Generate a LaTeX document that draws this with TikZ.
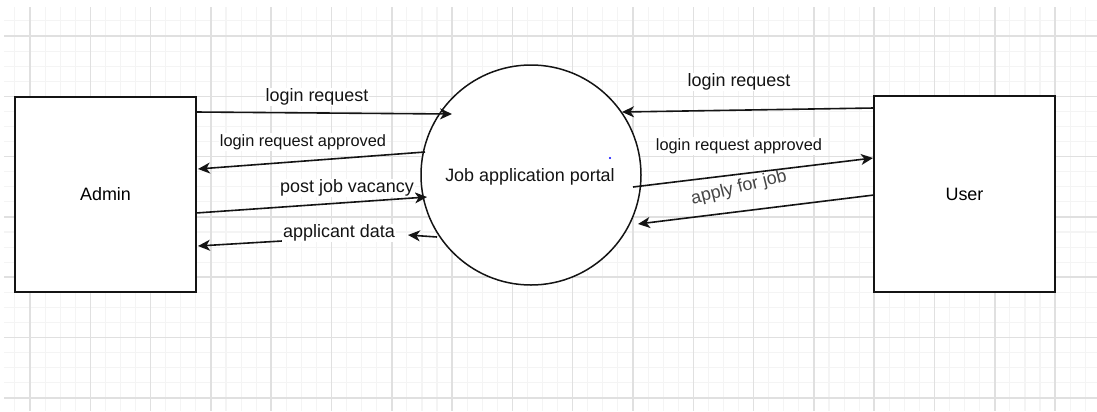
\documentclass[tikz,border=0pt]{standalone}
\usepackage{fontspec}
\setmainfont{Liberation Sans}
\usetikzlibrary{arrows.meta}
\definecolor{gridminor}{HTML}{F4F4F4}
\definecolor{gridmajor}{HTML}{E0E0E0}
\definecolor{ink}{HTML}{141414}
\definecolor{softink}{HTML}{454545}
\tikzset{
  x=1bp, y=-1bp,
  minorline/.style={draw=gridminor, line width=1.1bp},
  majorline/.style={draw=gridmajor, line width=1.5bp},
  entity/.style={draw=ink, line width=1.5bp, fill=white, minimum width=181bp,
    minimum height=195bp, inner sep=0pt, font=\fontsize{18}{21}\selectfont},
  process/.style={circle, draw=ink, line width=1.5bp, fill=white,
    minimum size=220bp, inner sep=0pt, font=\fontsize{18}{21}\selectfont},
  flow/.style={draw=ink, line width=1.6bp, -{Stealth[length=12bp, width=11bp, inset=3.5bp]}},
  flowlabel/.style={fill=white, inner sep=1bp, text=ink, font=\fontsize{18}{21}\selectfont},
  smalllabel/.style={flowlabel, font=\fontsize{16.4}{19}\selectfont}
}
\begin{document}
\begin{tikzpicture}
\useasboundingbox (0,0) rectangle (1097,411);
\fill[white] (0,0) rectangle (1097,411);

% background grid: fine lines every 15bp, heavier ones every 60bp
\foreach \i in {1,...,72}
  \draw[minorline] ({-0.15+15.075*\i},7) -- ({-0.15+15.075*\i},411);
\foreach \i in {1,...,26}
  \draw[minorline] (4,{5.85+15.075*\i}) -- (1097,{5.85+15.075*\i});
\foreach \i in {0,...,17}
  \draw[majorline] ({30+60.3*\i},7) -- ({30+60.3*\i},411);
\foreach \i in {0,...,6}
  \draw[majorline] (4,{36+60.3*\i}) -- (1097,{36+60.3*\i});

% external entities and the central process
\node[entity] (admin) at (105.5,194.5) {Admin};
\node[entity, minimum height=196bp] (user) at (964.5,194) {User};
\node[process] (portal) at (531,175) {};
\node[font=\fontsize{18}{21}\selectfont, text=ink] (portaltext) at (530,177) {Job application portal};
\fill[blue] (610,158) circle (1.2bp);

% end points of the data flows
\coordinate (a1) at (196,112);   \coordinate (p1) at (452,114);
\coordinate (p2) at (425,152);   \coordinate (a2) at (198,169);
\coordinate (a3) at (196,213);   \coordinate (p3) at (427,197);
\coordinate (p4) at (437,237);   \coordinate (m4) at (408,235);
\coordinate (l4) at (282,241);   \coordinate (a4) at (198,246);
\coordinate (u5) at (874,108);   \coordinate (p5) at (622,112);
\coordinate (p6) at (633,187);   \coordinate (u6) at (873,158);
\coordinate (u7) at (874,195);   \coordinate (p7) at (638,224);

% admin side
\draw[flow] (a1) -- (p1);
\node[flowlabel] (l1) at (317,97) {login request};
\draw[flow] (p2) -- (a2);
\node[smalllabel] (l2) at (303,142) {login request approved};
\draw[flow] (a3) -- (p3);
\node[flowlabel] (l3) at (347,188) {post job vacancy};
\draw[flow] (p4) -- (m4);
\draw[flow] (l4) -- (a4);
\node[flowlabel] (l4text) at (339,233) {applicant data};

% user side
\draw[flow] (u5) -- (p5);
\node[flowlabel] (l5) at (739,82) {login request};
\draw[flow] (p6) -- (u6);
\node[smalllabel] (l6) at (739,146) {login request approved};
\draw[flow] (u7) -- (p7);
\node[flowlabel, fill=none, inner sep=0pt, text=softink, rotate=14] (l7) at (739,188) {apply for job};
\end{tikzpicture}
\end{document}
